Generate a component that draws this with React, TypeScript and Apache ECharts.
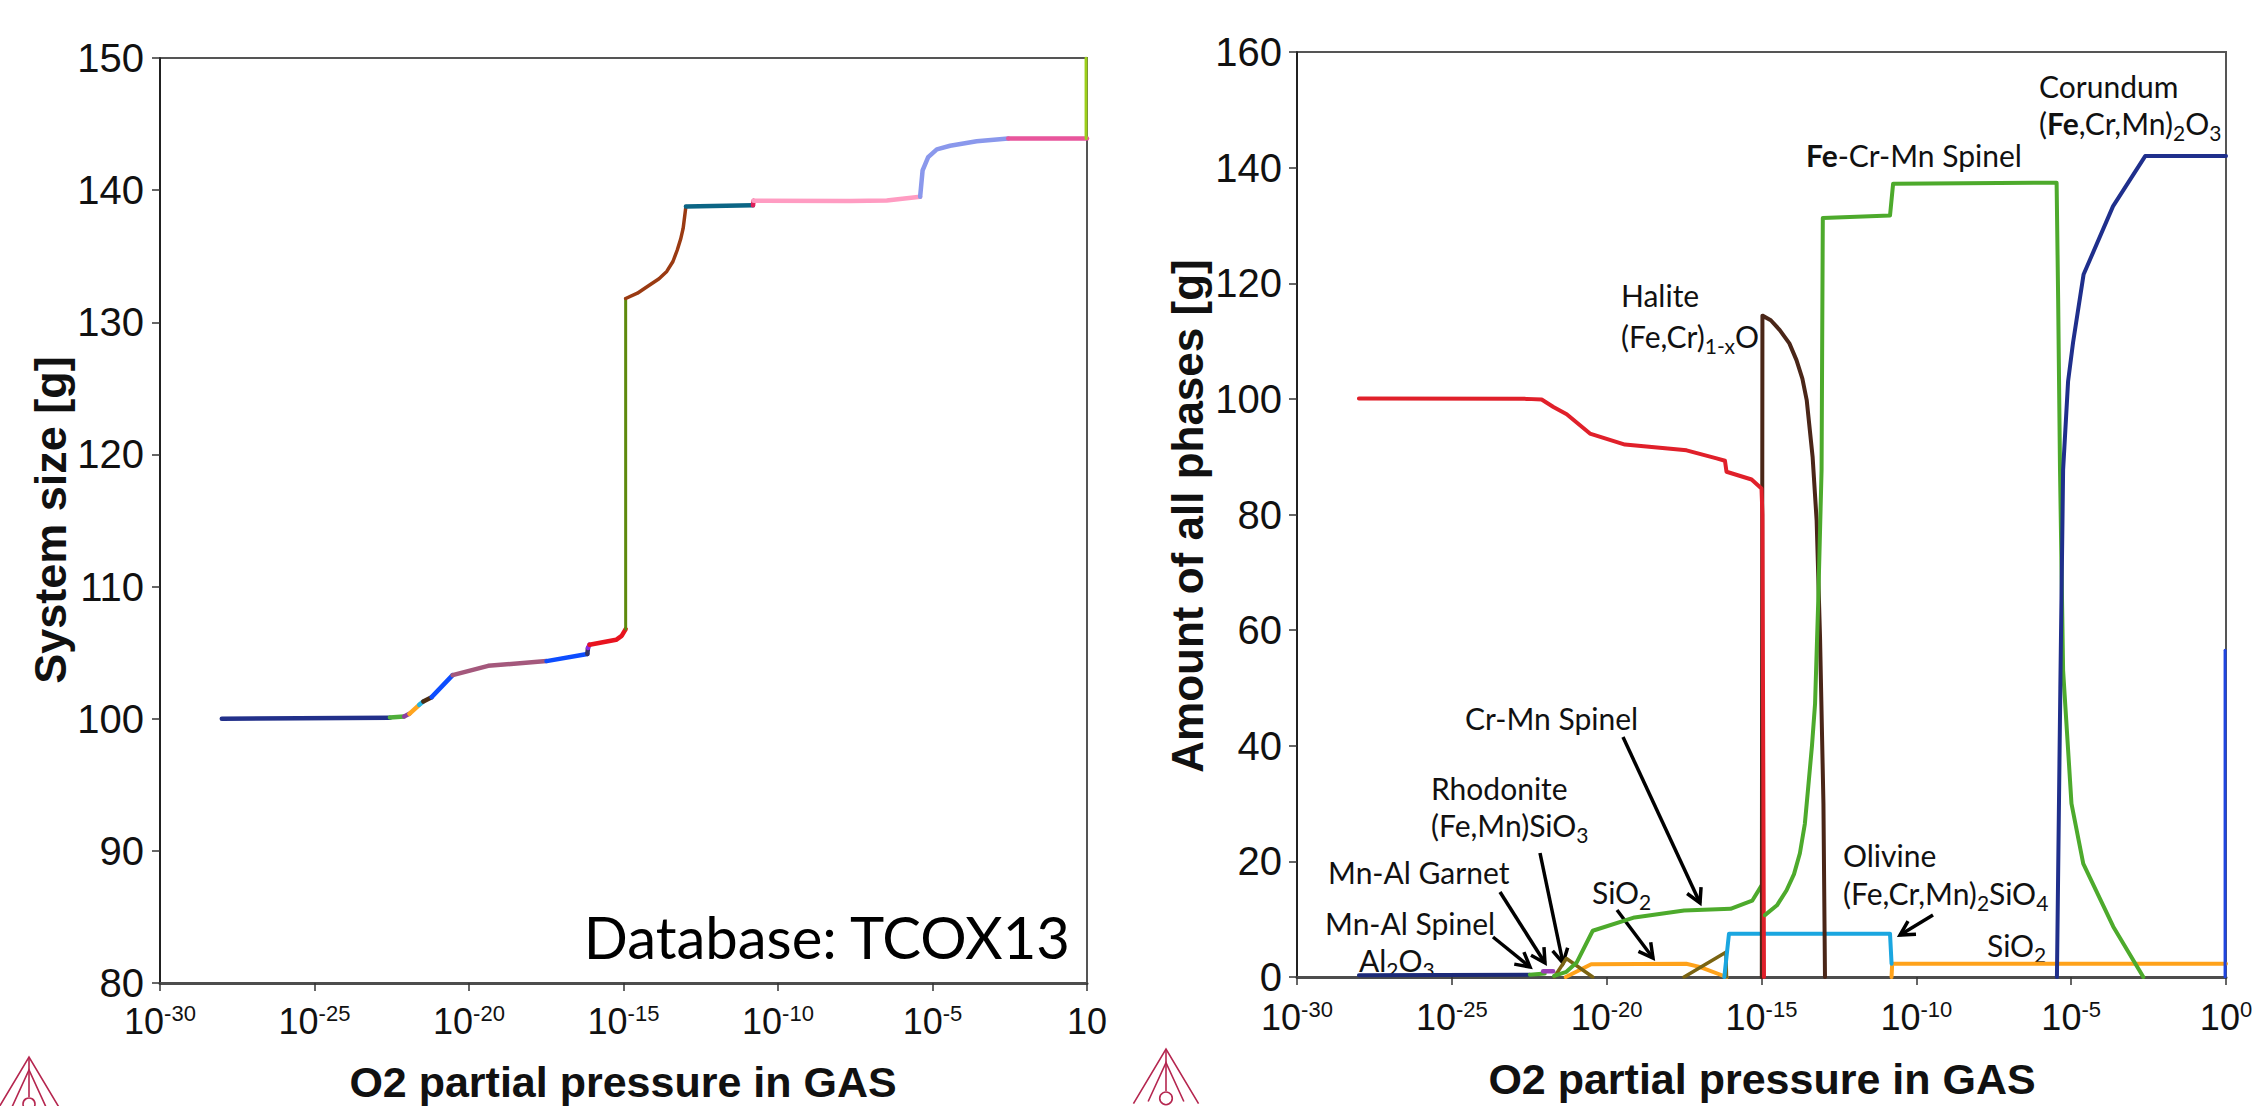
import React, { useEffect, useRef } from 'react';
import * as echarts from 'echarts';

// x values are log10 of the O2 partial pressure
const xMin = -30;
const xMax = 0;
const xStep = 5;

// ---------- Left chart: System size [g] ----------
const leftNavy = [[-28, 100.0], [-22.56, 100.08]];
const leftGreen = [[-22.56, 100.1], [-22.1, 100.17]];
const leftPurple = [[-22.1, 100.17], [-21.93, 100.37]];
const leftOrange = [[-21.93, 100.37], [-21.61, 101.05]];
const leftCyan = [[-21.61, 101.05], [-21.48, 101.3]];
const leftDarkBrown = [[-21.48, 101.3], [-21.21, 101.63]];
const leftBlue1 = [[-21.21, 101.63], [-20.53, 103.3]];
const leftMauve = [[-20.53, 103.3], [-19.38, 104.0], [-17.49, 104.36]];
const leftBlue2 = [[-17.49, 104.36], [-16.17, 104.9]];
const leftDark = [[-16.17, 104.9], [-16.15, 105.35]];
const leftViolet = [[-16.15, 105.35], [-16.1, 105.6]];
const leftRed = [[-16.1, 105.6], [-15.24, 105.97], [-15.06, 106.27], [-14.93, 106.78]];
const leftOlive = [[-14.93, 106.78], [-14.93, 131.8]];
const leftRust = [[-14.93, 131.8], [-14.55, 132.2], [-14.19, 132.77], [-13.85, 133.3], [-13.6, 133.85], [-13.4, 134.6], [-13.26, 135.47], [-13.15, 136.3], [-13.07, 137.1], [-12.98, 138.77]];
const leftTeal = [[-12.98, 138.77], [-10.81, 138.85]];
const leftMagenta = [[-10.81, 138.85], [-10.79, 139.2]];
const leftPink = [[-10.79, 139.2], [-7.67, 139.17], [-6.48, 139.22], [-5.4, 139.5]];
const leftLavender = [[-5.4, 139.5], [-5.32, 141.5], [-5.14, 142.5], [-4.86, 143.09], [-4.43, 143.36], [-3.57, 143.7], [-2.55, 143.9]];
const leftHotPink = [[-2.55, 143.9], [0, 143.9]];
const leftLime = [[-0.03, 143.9], [-0.03, 150]];

// ---------- Right chart: Amount of all phases [g] ----------
const rightAl2O3 = [[-28, 0.3], [-22.48, 0.4]];
const rightMnAlSpinel = [[-22.48, 0.4], [-22.0, 0.6]];
const rightGarnet = [[-22.05, 1.0], [-21.73, 1.0]];
const rightOlive1 = [[-21.69, 0], [-21.3, 3.2], [-20.45, 0]];
const rightOlive2 = [[-17.5, 0], [-16.15, 4.3], [-16.13, 0]];
const rightOrange1 = [[-21.32, 0], [-20.5, 2.2], [-17.43, 2.3], [-17.0, 1.75], [-16.13, 0]];
const rightOrange2 = [[-10.8, 0], [-10.78, 2.3], [0, 2.3]];
const rightCrMnSpinel = [[-21.7, 0.2], [-21.3, 0.9], [-20.97, 2.5], [-20.45, 8.0], [-19.1, 10.3], [-17.5, 11.5], [-16.0, 11.8], [-15.3, 13.2], [-15.0, 15.8]];
const rightOlivine = [[-16.2, 0], [-16.05, 7.5], [-10.85, 7.5], [-10.8, 2.3]];
const rightHalite = [[-14.99, 0], [-14.97, 114.4], [-14.7, 113.6], [-14.41, 111.9], [-14.1, 109.6], [-13.87, 106.7], [-13.68, 103.5], [-13.54, 99.8], [-13.35, 90], [-13.22, 79], [-13.11, 58.8], [-13.0, 30], [-12.95, 0]];
const rightLiquid = [[-28, 100.07], [-22.58, 100], [-22.1, 99.9], [-21.72, 98.6], [-21.29, 97.35], [-20.54, 94.0], [-19.41, 92.1], [-17.42, 91.1], [-16.45, 89.7], [-16.18, 89.3], [-16.13, 87.4], [-15.32, 86.06], [-15.0, 84.5], [-14.97, 80], [-14.92, 0]];
const rightFeSpinel = [[-14.89, 10.7], [-14.5, 12.4], [-14.19, 15.0], [-13.95, 17.8], [-13.76, 21.4], [-13.6, 26.5], [-13.49, 32.9], [-13.37, 40], [-13.27, 47.3], [-13.17, 64.6], [-13.06, 87.7], [-13.04, 110], [-13.02, 131.3], [-10.85, 131.7], [-10.75, 137.2], [-5.47, 137.4], [-5.42, 117], [-5.36, 87.7], [-5.26, 53], [-4.99, 30], [-4.61, 19.6], [-3.64, 8.7], [-2.67, 0]];
const rightCorundum = [[-5.46, 0], [-5.35, 50], [-5.26, 87.7], [-5.1, 103], [-4.94, 109.7], [-4.6, 121.5], [-3.65, 133.3], [-2.61, 142], [0, 142]];
const rightEdge = [[-0.03, 0], [-0.03, 56.5]];

const TICK_FONT = "'Liberation Sans', Arial, sans-serif";
const NOTE_FONT = "Lato, 'Open Sans', sans-serif";

export default function App() {
  const ref = useRef<HTMLDivElement>(null);

  useEffect(() => {
    const chart = echarts.init(ref.current!, null, { renderer: 'svg' });

    const seg = (data: number[][], color: string, width: number, idx: number) => ({
      type: 'line',
      xAxisIndex: idx,
      yAxisIndex: idx,
      data,
      showSymbol: false,
      symbol: 'none',
      silent: true,
      animation: false,
      lineStyle: { color, width, cap: 'round', join: 'round' },
    });

    const xLabelRich = {
      b: { fontSize: 36, lineHeight: 38, fontFamily: TICK_FONT, color: '#111' },
      s: { fontSize: 22, lineHeight: 20, verticalAlign: 'top', fontFamily: TICK_FONT, color: '#111' },
    };

    const xAxisBase = (grid: number, margin: number, lastPlain: boolean) => ({
      type: 'value',
      gridIndex: grid,
      min: xMin,
      max: xMax,
      interval: xStep,
      axisLine: { show: true, onZero: false, lineStyle: { color: '#4d4d4d', width: 3 } },
      axisTick: { show: true, length: 8, lineStyle: { color: '#333', width: 1.5 } },
      axisLabel: {
        margin,
        formatter: (v: number) => (v === 0 && lastPlain ? '{b|10}' : `{b|10}{s|${v}}`),
        rich: xLabelRich,
      },
      splitLine: { show: false },
    });

    const yAxisBase = (grid: number, min: number, max: number, interval: number, margin: number) => ({
      type: 'value',
      gridIndex: grid,
      min,
      max,
      interval,
      axisLine: { show: true, onZero: false, lineStyle: { color: '#111', width: 1.5 } },
      axisTick: { show: true, length: 8, lineStyle: { color: '#333', width: 1.5 } },
      axisLabel: { margin, fontSize: 40, fontFamily: TICK_FONT, color: '#111' },
      splitLine: { show: false },
    });

    // annotation helpers (graphic overlay)
    const note = (x: number, baseline: number, text: string, fs = 30) => ({
      type: 'text',
      x,
      y: baseline - 0.35 * fs,
      style: {
        text,
        fontSize: fs,
        fontFamily: NOTE_FONT,
        fill: '#111',
        align: 'left',
        verticalAlign: 'middle',
        rich: {
          n: { fontSize: fs, lineHeight: 40, fontFamily: NOTE_FONT, fill: '#111' },
          bb: { fontSize: fs, lineHeight: 40, fontFamily: NOTE_FONT, fontWeight: 'bold', fill: '#111' },
          s: { fontSize: 21, lineHeight: 18, verticalAlign: 'bottom', fontFamily: NOTE_FONT, fill: '#111' },
        },
      },
    });

    const arrow = (x1: number, y1: number, x2: number, y2: number) => {
      const ang = Math.atan2(y2 - y1, x2 - x1);
      const L = 16;
      const a = 0.5;
      const p1 = [x2 - L * Math.cos(ang - a), y2 - L * Math.sin(ang - a)];
      const p2 = [x2 - L * Math.cos(ang + a), y2 - L * Math.sin(ang + a)];
      return [
        { type: 'line', shape: { x1, y1, x2, y2 }, style: { stroke: '#000', lineWidth: 3.5 } },
        { type: 'polyline', shape: { points: [p1, [x2, y2], p2] }, style: { stroke: '#000', lineWidth: 3.5, fill: null } },
      ];
    };

    const logo = (ax: number, ay: number, s: number) => {
      const c = '#b5264f';
      const st = { stroke: c, lineWidth: 1.6, fill: null };
      return [
        { type: 'polyline', shape: { points: [[ax - 31 * s, ay + 52 * s], [ax, ay], [ax + 31 * s, ay + 52 * s]] }, style: st },
        { type: 'polyline', shape: { points: [[ax - 17 * s, ay + 50 * s], [ax, ay + 13 * s], [ax + 17 * s, ay + 50 * s]] }, style: st },
        { type: 'line', shape: { x1: ax, y1: ay, x2: ax, y2: ay + 40 * s }, style: st },
        { type: 'circle', shape: { cx: ax, cy: ay + 47 * s, r: 6 * s }, style: st },
      ];
    };

    const title = (x: number, y: number, text: string, rot = 0, fs = 43) => ({
      type: 'text',
      x,
      y,
      rotation: rot,
      style: {
        text,
        fontSize: fs,
        fontWeight: 'bold',
        fontFamily: TICK_FONT,
        fill: '#111',
        align: 'center',
        verticalAlign: 'middle',
      },
    });

    const option: any = {
      animation: false,
      backgroundColor: '#fff',
      grid: [
        { left: 160, top: 58, width: 927, height: 925, show: true, borderColor: '#555', borderWidth: 2, backgroundColor: 'transparent' },
        { left: 1297, top: 52, width: 929, height: 925, show: true, borderColor: '#555', borderWidth: 2, backgroundColor: 'transparent' },
      ],
      xAxis: [xAxisBase(0, 19, true), xAxisBase(1, 21, false)],
      yAxis: [yAxisBase(0, 80, 150, 10, 16), yAxisBase(1, 0, 160, 20, 15)],
      series: [
        seg(leftNavy, '#22308a', 4.5, 0),
        seg(leftGreen, '#4fae3a', 4.5, 0),
        seg(leftPurple, '#8e3fa0', 4.5, 0),
        seg(leftOrange, '#ffa51f', 4.5, 0),
        seg(leftCyan, '#22b5e6', 4.5, 0),
        seg(leftDarkBrown, '#4b2d14', 4.5, 0),
        seg(leftBlue1, '#0d4dff', 4.5, 0),
        seg(leftMauve, '#a4587c', 4.5, 0),
        seg(leftBlue2, '#0d4dff', 4.5, 0),
        seg(leftDark, '#333366', 4.5, 0),
        seg(leftViolet, '#8a2be2', 4.5, 0),
        seg(leftRed, '#e8131f', 4.5, 0),
        seg(leftOlive, '#5e8a0c', 3, 0),
        seg(leftRust, '#9a3a12', 3.5, 0),
        seg(leftTeal, '#0b6585', 4.5, 0),
        seg(leftMagenta, '#e0205a', 4.5, 0),
        seg(leftPink, '#ff9cc2', 4.5, 0),
        seg(leftLavender, '#8a98ec', 4.5, 0),
        seg(leftHotPink, '#e8569c', 4.5, 0),
        seg(leftLime, '#9ccf1a', 3, 0),

        seg(rightAl2O3, '#1c2a78', 4, 1),
        seg(rightMnAlSpinel, '#4daa2c', 4, 1),
        seg(rightGarnet, '#9a3fb5', 4.5, 1),
        seg(rightOrange1, '#ffa21a', 4, 1),
        seg(rightOrange2, '#ffa21a', 4, 1),
        seg(rightOlive1, '#7a6412', 3.5, 1),
        seg(rightOlive2, '#7a6412', 3.5, 1),
        seg(rightCrMnSpinel, '#4daa2c', 4, 1),
        seg(rightOlivine, '#1aa6e0', 4, 1),
        seg(rightHalite, '#4a2618', 4, 1),
        seg(rightLiquid, '#e0202a', 4, 1),
        seg(rightFeSpinel, '#4daa2c', 4, 1),
        seg(rightCorundum, '#1f2f8c', 4, 1),
        seg(rightEdge, '#1f45e0', 3, 1),
      ],
      graphic: [
        title(50, 520, 'System size [g]', Math.PI / 2, 45),
        title(1187, 516, 'Amount of all phases [g]', Math.PI / 2, 44),
        title(623, 1082, 'O2 partial pressure in GAS'),
        title(1762, 1079, 'O2 partial pressure in GAS'),
        {
          type: 'text',
          x: 1070,
          y: 957 - 0.35 * 58,
          style: { text: 'Database: TCOX13', fontSize: 58, fontFamily: NOTE_FONT, fill: '#000', align: 'right', verticalAlign: 'middle' },
        },
        note(1359, 970, '{n|Al}{s|2}{n|O}{s|3}'),
        note(1325, 933, 'Mn-Al Spinel'),
        note(1328, 882, 'Mn-Al Garnet'),
        note(1431, 798, 'Rhodonite'),
        note(1431, 835, '{n|(Fe,Mn)SiO}{s|3}'),
        note(1592, 902, '{n|SiO}{s|2}'),
        note(1465, 728, 'Cr-Mn Spinel'),
        note(1621, 305, 'Halite'),
        note(1621, 346, '{n|(Fe,Cr)}{s|1-x}{n|O}'),
        note(1843, 865, 'Olivine'),
        note(1843, 903, '{n|(Fe,Cr,Mn)}{s|2}{n|SiO}{s|4}'),
        note(1987, 955, '{n|SiO}{s|2}'),
        note(1806, 165, '{bb|Fe}{n|-Cr-Mn Spinel}'),
        note(2039, 96, 'Corundum'),
        note(2039, 133, '{n|(}{bb|Fe}{n|,Cr,Mn)}{s|2}{n|O}{s|3}'),
        ...arrow(1493, 937, 1530, 967),
        ...arrow(1500, 892, 1545, 963),
        ...arrow(1540, 853, 1563, 963),
        ...arrow(1617, 910, 1653, 958),
        ...arrow(1623, 737, 1700, 903),
        ...arrow(1933, 915, 1900, 935),
        ...logo(29, 1057, 1),
        ...logo(1166, 1049, 1.05),
      ],
    };

    chart.setOption(option);
    return () => chart.dispose();
  }, []);

  return (
    <div
      ref={ref}
      style={{ position: 'fixed', left: 0, top: 0, width: 2259, height: 1106, background: '#fff' }}
    />
  );
}
